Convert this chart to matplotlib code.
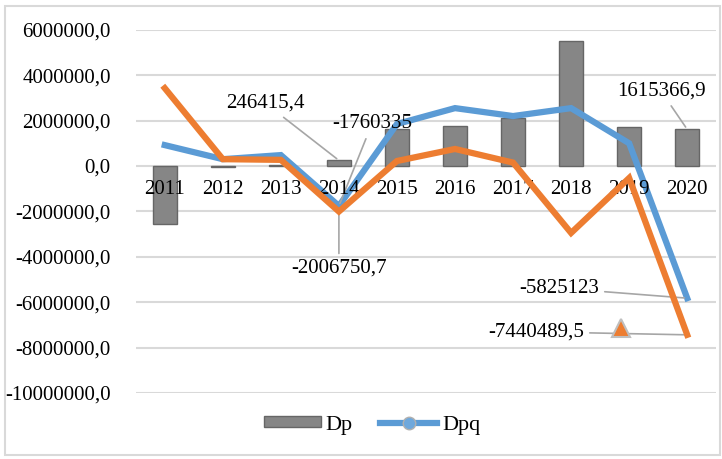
import matplotlib.pyplot as plt
import numpy as np
from matplotlib.patches import Patch
from matplotlib.lines import Line2D

years = ["2011", "2012", "2013", "2014", "2015", "2016", "2017", "2018", "2019", "2020"]
dp = [-2550000, -40000, 60000, 246415.4, 1630000, 1760000, 2100000, 5500000, 1710000, 1615366.9]
dpq = [920000, 300000, 480000, -1760335, 1850000, 2550000, 2200000, 2550000, 1000000, -5825123]
dq = [3430000, 300000, 270000, -2006750.7, 220000, 750000, 150000, -2950000, -530000, -7440489.5]
yticks = [6000000, 4000000, 2000000, 0, -2000000, -4000000, -6000000, -8000000, -10000000]

plt.rcParams['font.family'] = ['Liberation Serif', 'DejaVu Serif']
plt.rcParams['font.size'] = 15

fig = plt.figure(figsize=(7.22, 4.59), dpi=100)
ax = fig.add_axes([0.188, 0.144, 0.804, 0.791])
x = np.arange(len(years))

# frame round the whole chart
fig.patches.append(plt.Rectangle((0.007, 0.008), 0.99, 0.98, transform=fig.transFigure,
                                 fill=False, edgecolor="#d9d9d9", lw=1.5))

ax.bar(x, dp, width=0.42, color="#868686", edgecolor="#666666", linewidth=1, zorder=2)
ax.plot(x, dpq, color="#5b9bd5", lw=4.5, solid_joinstyle="miter", zorder=3)
ax.plot(x, dq, color="#ed7d31", lw=4.5, solid_joinstyle="miter", zorder=4)

ax.set_xlim(-0.5, len(years) - 0.5)
ax.set_ylim(-10000000, 6000000)
ax.set_yticks(yticks)
ax.set_yticklabels([f"{v:.1f}".replace(".", ",") for v in yticks])
ax.yaxis.grid(True, color="#d9d9d9", lw=1.5)
ax.set_axisbelow(True)
for s in ax.spines.values():
    s.set_visible(False)
ax.spines['bottom'].set_position(('data', 0))
ax.set_xticks(x)
ax.set_xticklabels(years)
ax.xaxis.set_zorder(3.5)
ax.tick_params(axis="both", length=0)
ax.tick_params(axis="x", pad=10)
ax.tick_params(axis="y", pad=18)

lk = dict(arrowprops=dict(arrowstyle="-", color="#a6a6a6", lw=1.2),
          textcoords="offset pixels", fontsize=15)
ax.annotate("246415,4", (3, dp[3]), xytext=(-34, 57), ha="right", va="center", **lk)
ax.annotate("-1760335", (3, dpq[3]), xytext=(33, 82), ha="center", va="center", **lk)
ax.annotate("-2006750,7", (3, dq[3]), xytext=(0, -57), ha="center", va="center", **lk)
ax.annotate("1615366,9", (9, dp[9]), xytext=(-26, 38), ha="center", va="center", **lk)
ax.annotate("-5825123", (9, dpq[9]), xytext=(-88, 10), ha="right", va="center", **lk)
ax.annotate("-7440489,5", (9, dq[9]), xytext=(-103, 3), ha="right", va="center", **lk)

handles = [Patch(facecolor="#868686", edgecolor="#666666"),
           Line2D([], [], color="#5b9bd5", lw=4.5, marker="o", markersize=9,
                  markerfacecolor="#6fa8dc", markeredgecolor="#b0b0b0")]
leg = fig.legend(handles, ["Dp", "Dpq"], loc="center", bbox_to_anchor=(0.515, 0.074),
                 ncol=2, frameon=False, fontsize=16, handlelength=2.6, handleheight=0.4,
                 columnspacing=1.2, handletextpad=0.2)

# stray legend key of the orange series
tri = Line2D([], [], ls="none", marker="^", markersize=13, markerfacecolor="#ed7d31",
             markeredgecolor="#bfbfbf", markeredgewidth=1.5)
fig.legend([tri], [""], loc="center", bbox_to_anchor=(0.86, 0.28), frameon=False,
           handlelength=1, handletextpad=0)

fig.savefig("out.png", dpi=100)
